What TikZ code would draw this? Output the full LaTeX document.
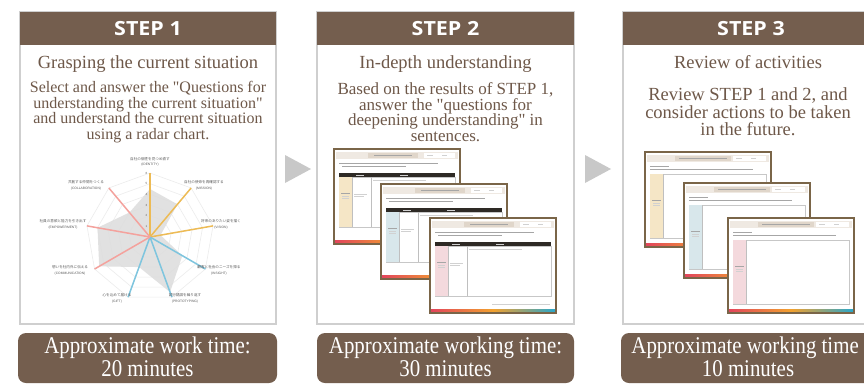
\documentclass[tikz,border=0pt]{standalone}
\usepackage{fontspec}
\setmainfont{Liberation Serif}
\newfontfamily\stepfont{Open Sans}[FakeStretch=1.1]
\newfontfamily\condfont{Liberation Serif}[FakeStretch=0.87]
\newfontfamily\jpfont{Noto Sans CJK JP}
\newfontfamily\lblfont{Liberation Sans}
\definecolor{hdrbrown}{HTML}{745E4E}
\definecolor{txtbrown}{HTML}{6E5849}
\definecolor{panelgray}{HTML}{CFCFCF}
\definecolor{arrowgray}{HTML}{C8C8C8}
\definecolor{gridc}{HTML}{ECECEC}
\definecolor{radarfill}{HTML}{DEDEDE}
\definecolor{ryel}{HTML}{EDBB55}
\definecolor{rblue}{HTML}{7EC5DE}
\definecolor{rpink}{HTML}{F4A29D}
\definecolor{sheetbrown}{HTML}{7A6548}
\definecolor{hdrband}{HTML}{EFE9E2}
\definecolor{hdrdark}{HTML}{E0D6CA}
\definecolor{tablebar}{HTML}{2E2A25}
\definecolor{sheetbeige}{HTML}{F5E6C6}
\definecolor{sheetblue}{HTML}{D8E7EB}
\definecolor{sheetpink}{HTML}{F4D9DD}
\definecolor{stripred}{HTML}{E2445C}
\definecolor{striporange}{HTML}{F2A12E}
\definecolor{stripteal}{HTML}{27A7CC}
\definecolor{lblgray}{HTML}{5A5A5A}
\tikzset{
  panelbox/.style={draw=panelgray, line width=1.2, fill=white},
  hdrbox/.style={fill=hdrbrown},
  steptitle/.style={text=white, font=\stepfont\bfseries\fontsize{19.5}{19.5}\selectfont, inner sep=0},
  maintitle/.style={text=txtbrown, font=\fontsize{18.5}{18.5}\selectfont, inner sep=0, anchor=base},
  bodytext/.style={text=txtbrown, align=center, inner sep=0, anchor=base},
  pillbox/.style={fill=hdrbrown, rounded corners=8pt},
  pilltext/.style={text=white, align=center, inner sep=0, font=\condfont\fontsize{24}{23}\selectfont},
  navarrow/.style={fill=arrowgray},
  jplbl/.style={text=lblgray, font=\jpfont\fontsize{3.6}{4}\selectfont, inner sep=0},
  enlbl/.style={text=lblgray, font=\lblfont\fontsize{3.3}{4}\selectfont, inner sep=0},
  ticklbl/.style={text=lblgray, font=\lblfont\fontsize{3}{3}\selectfont, inner sep=0},
  sheetborder/.style={draw=sheetbrown, line width=1.3},
  textline/.style={draw=black!35, line width=0.6},
  faintline/.style={draw=black!18, line width=0.5},
  cellline/.style={draw=black!25, line width=0.5},
  pics/tablesheet/.style={code={
    \fill[white] (0,0) rectangle (126,95);
    \fill[hdrband] (2,3) rectangle (124,10);
    \fill[hdrdark] (34,4) rectangle (84,9);
    \draw[textline] (40,6.5) -- (78,6.5);
    \fill[white] (90,4) rectangle (121,9);
    \draw[faintline] (93,6.5) -- (99,6.5) (108,6.5) -- (113,6.5);
    \draw[textline] (5,14) -- (104,14) (8,17) -- (72,17);
    \fill[tablebar] (5,24) rectangle (121,28);
    \draw[faintline] (22,26) -- (30,26) (66,26) -- (74,26);
    \filldraw[fill=white, draw=black!22, line width=0.5] (5,28) rectangle (121,78);
    \fill[#1] (5,28) rectangle (18,78);
    \draw[cellline] (18,28) -- (18,78) (37,28) -- (37,78);
    \draw[textline] (7,44) -- (16,44);
    \draw[faintline] (8,47) -- (15,47) (8,49) -- (15,49) (20,45) -- (33,45) (20,47) -- (30,47) (39,31) -- (92,31);
    \draw[faintline] (62,86) -- (120,86);
    \shade[left color=stripred, right color=stripteal, middle color=striporange] (0,91) rectangle (126,95);
    \draw[sheetborder] (0,0) rectangle (126,95);
  }},
  pics/actionsheet/.style={code={
    \fill[white] (0,0) rectangle (126,95);
    \fill[hdrband] (2,3) rectangle (124,10);
    \fill[hdrdark] (30,4) rectangle (86,9);
    \draw[textline] (34,6.5) -- (82,6.5);
    \fill[white] (88,4) rectangle (121,9);
    \draw[faintline] (91,6.5) -- (97,6.5) (106,6.5) -- (111,6.5);
    \draw[textline] (5,14) -- (24,14) (5,17) -- (108,17);
    \filldraw[fill=white, draw=black!22, line width=0.5] (5,22) rectangle (121,86);
    \fill[#1] (5,22) rectangle (18,86);
    \draw[cellline] (18,22) -- (18,86);
    \draw[textline] (7,48) -- (16,48);
    \draw[faintline] (8,51) -- (15,51) (8,53) -- (15,53);
    \shade[left color=stripred, right color=stripteal, middle color=striporange] (0,91) rectangle (126,95);
    \draw[sheetborder] (0,0) rectangle (126,95);
  }},
}
\begin{document}
\begin{tikzpicture}[x=1pt, y=-1pt]
\useasboundingbox (0,0) rectangle (864,386);
\clip (0,0) rectangle (864,386);
\fill[white] (0,0) rectangle (864,386);

% ---------- panels ----------
\draw[panelbox] (20,12) rectangle (276,324);
\fill[hdrbox] (20,12) rectangle (276,45);
\draw[panelbox] (317,12) rectangle (574,324);
\fill[hdrbox] (317,12) rectangle (574,45);
\draw[panelbox] (623,12) rectangle (890,324);
\fill[hdrbox] (623,12) rectangle (890,45);

\node[steptitle] (s1) at (148,28.5) {STEP 1};
\node[steptitle] (s2) at (445.5,28.5) {STEP 2};
\node[steptitle] (s3) at (751,28.5) {STEP 3};

\node[maintitle] (t1) at (148,68) {Grasping the current situation};
\node[maintitle] (t2) at (445.5,68) {In-depth understanding};
\node[maintitle] (t3) at (748,68) {Review of activities};

\node[bodytext, font=\fontsize{16}{15.4}\selectfont] (b1) at (148,139)
  {Select and answer the \textquotedbl Questions for\\understanding the current situation\textquotedbl\\and understand the current situation\\using a radar chart.};
\node[bodytext, font=\fontsize{17}{15.5}\selectfont] (b2) at (445.5,141)
  {Based on the results of STEP 1,\\answer the \textquotedbl questions for\\deepening understanding\textquotedbl{} in\\sentences.};
\node[bodytext, font=\fontsize{18.5}{17.5}\selectfont] (b3) at (748,135.5)
  {Review STEP 1 and 2, and\\consider actions to be taken\\in the future.};

% ---------- arrows ----------
\fill[navarrow] (285,155) -- (311,169) -- (285,183) -- cycle;
\fill[navarrow] (585,155) -- (611,169) -- (585,183) -- cycle;

% ---------- radar chart ----------
\begin{scope}[shift={(150,237)}, yscale=-1]
  \coordinate (rc) at (0,0);
  \foreach \k in {1,...,6}{
    \pgfmathsetmacro\rr{\k*64/6}
    \draw[gridc, line width=0.6] (90:\rr) \foreach \a in {50,10,-30,-70,-110,-150,170,130}{ -- (\a:\rr)} -- cycle;
  }
  \foreach \a in {90,50,10,-30,-70,-110,-150,170,130}{
    \draw[gridc, line width=0.6] (rc) -- (\a:64);
  }
  \fill[radarfill, opacity=0.9] (90:48) -- (50:42.7) -- (10:10.7) -- (-30:37.3) -- (-70:58.7)
     -- (-110:32) -- (-150:58.7) -- (170:53.3) -- (130:32) -- cycle;
  \coordinate (aid) at (90:64);
  \coordinate (ami) at (50:64);
  \coordinate (avi) at (10:64);
  \coordinate (ain) at (-30:64);
  \coordinate (apr) at (-70:64);
  \coordinate (agi) at (-110:64);
  \coordinate (aco) at (-150:64);
  \coordinate (aem) at (170:64);
  \coordinate (acl) at (130:64);
  \draw[ryel, line width=1.5] (rc) -- (aid);
  \draw[ryel, line width=1.5] (rc) -- (ami);
  \draw[ryel, line width=1.5] (rc) -- (avi);
  \draw[rblue, line width=1.5] (rc) -- (ain);
  \draw[rblue, line width=1.5] (rc) -- (apr);
  \draw[rblue, line width=1.5] (rc) -- (agi);
  \draw[rpink, line width=1.5] (rc) -- (aco);
  \draw[rpink, line width=1.5] (rc) -- (aem);
  \draw[rpink, line width=1.5] (rc) -- (acl);
\end{scope}
\foreach \k in {1,...,6}{
  \node[ticklbl] at (146.5,{237-\k*10.67}) {\k};
}
% axis labels
\node[jplbl] (jid) at (150,159) {自社の個性を見つめ直す};
\node[enlbl] (eid) at (150,165) {(IDENTITY)};
\node[jplbl] (jmi) at (204,182) {自社の使命を再確認する};
\node[enlbl] (emi) at (204,188.5) {(MISSION)};
\node[jplbl] (jvi) at (221,221) {将来のありたい姿を描く};
\node[enlbl] (evi) at (221,227.5) {(VISION)};
\node[jplbl] (jin) at (219,267) {顧客と社会のニーズを探る};
\node[enlbl] (ein) at (219,273.5) {(INSIGHT)};
\node[jplbl] (jpr) at (185,295) {試行錯誤を繰り返す};
\node[enlbl] (epr) at (185,301.5) {(PROTOTYPING)};
\node[jplbl] (jgi) at (117,295) {心を込めて届ける};
\node[enlbl] (egi) at (117,301.5) {(GIFT)};
\node[jplbl] (jco) at (70,267) {想いを社内外に伝える};
\node[enlbl] (eco) at (70,273.5) {(COMMUNICATION)};
\node[jplbl] (jem) at (63,221) {社員の意欲と能力を引き出す};
\node[enlbl] (eem) at (63,227.5) {(EMPOWERMENT)};
\node[jplbl] (jcl) at (86,182) {共創する仲間をつくる};
\node[enlbl] (ecl) at (86,188.5) {(COLLABORATION)};

% ---------- sheets ----------
\pic (sa) at (334,149) {tablesheet=sheetbeige};
\pic (sb) at (381,184) {tablesheet=sheetblue};
\pic (sc) at (430,218) {tablesheet=sheetpink};
\pic (sd) at (645,152) {actionsheet=sheetbeige};
\pic (se) at (684,183) {actionsheet=sheetblue};
\pic (sf) at (728,218) {actionsheet=sheetpink};

% ---------- time pills ----------
\fill[pillbox] (18,333) rectangle (277,383);
\fill[pillbox] (317,333) rectangle (574,383);
\fill[pillbox] (621,333) rectangle (880,383);
\node[pilltext] (p1) at (147.5,357) {Approximate work time:\\20 minutes};
\node[pilltext] (p2) at (445.5,357) {Approximate working time:\\30 minutes};
\node[pilltext] (p3) at (748,357) {Approximate working time\phantom{:}\\10 minutes};
\end{tikzpicture}
\end{document}
